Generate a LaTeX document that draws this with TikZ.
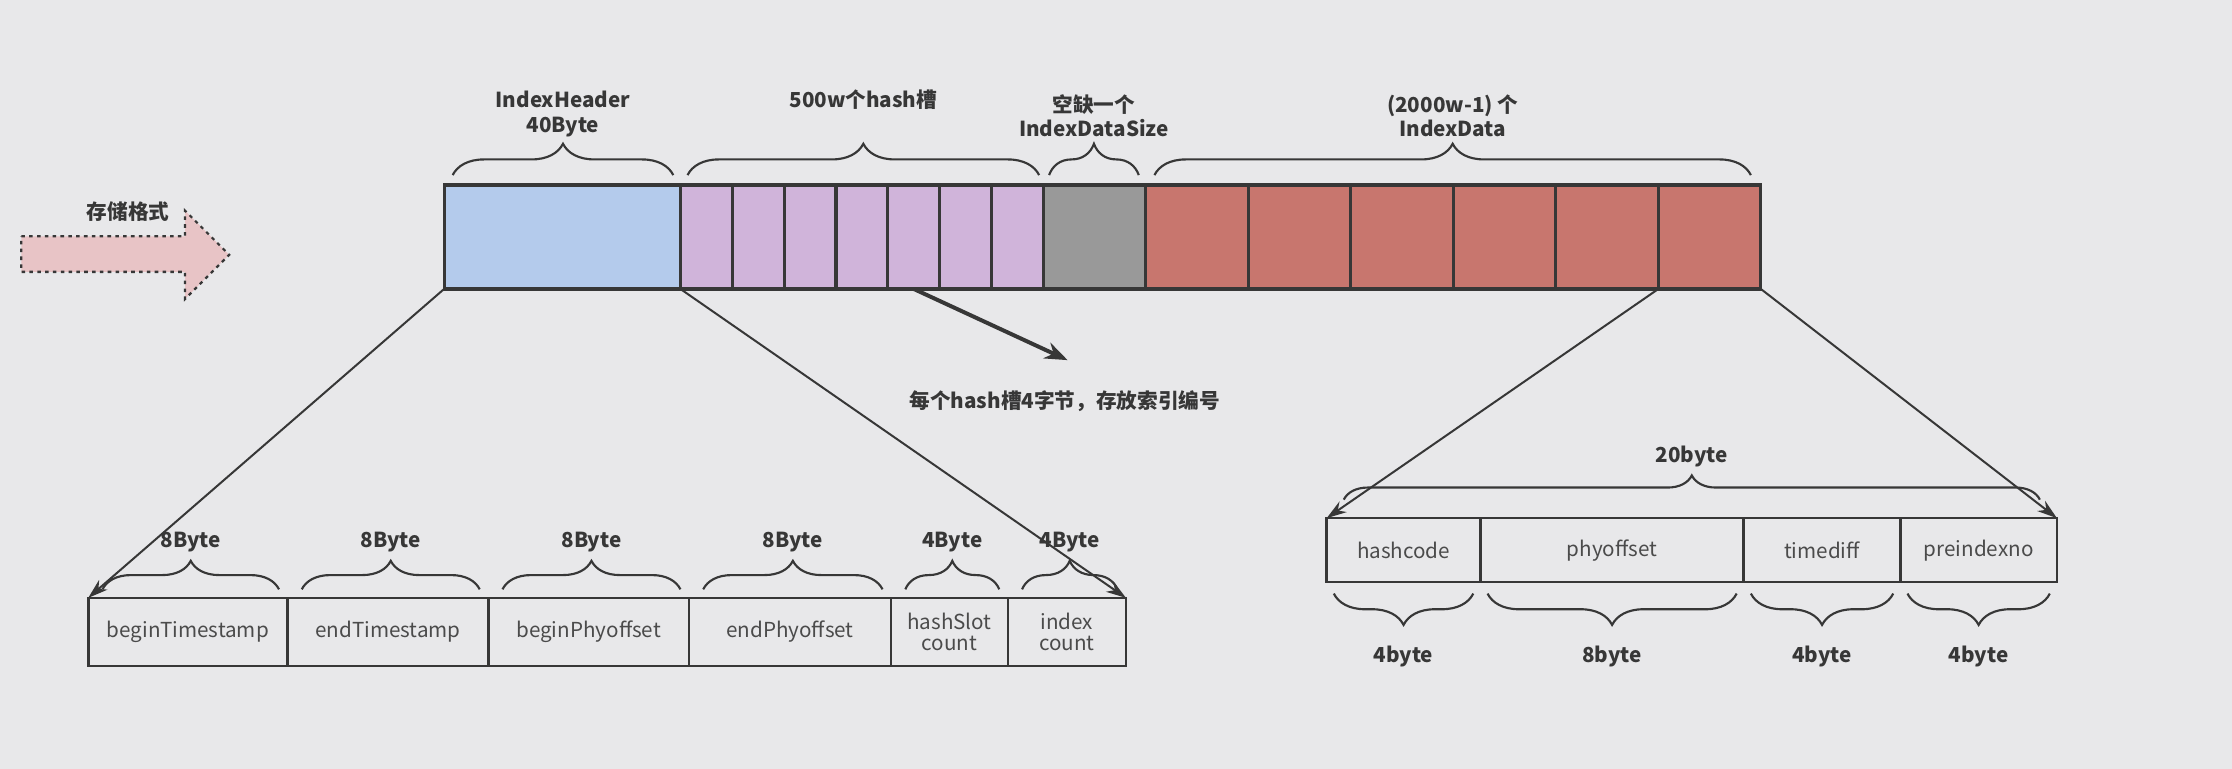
\documentclass[tikz,border=0pt]{standalone}
\usepackage{fontspec}
\setmainfont{Noto Sans CJK SC}
\usetikzlibrary{arrows.meta,decorations.pathreplacing,calc}

\definecolor{bgcol}{RGB}{232,232,234}
\definecolor{hdrblue}{RGB}{180,203,236}
\definecolor{slotpurple}{RGB}{208,180,218}
\definecolor{gapgray}{RGB}{153,153,153}
\definecolor{datared}{RGB}{200,118,110}
\definecolor{arrowpink}{RGB}{232,196,198}
\definecolor{linecol}{RGB}{55,55,55}
\definecolor{textcol}{RGB}{75,75,75}

\tikzset{
  cell/.style={draw=linecol, line width=1.8pt, anchor=north west, inner sep=0pt, outer sep=0pt},
  bar/.style={cell, line width=2.2pt, minimum height=73pt},
  field/.style={cell, minimum height=#1, align=center, text=textcol,
    font=\fontsize{14.5}{17}\selectfont},
  field/.default=48pt,
  tag/.style={font=\fontsize{14.5}{17}\selectfont\bfseries, text=linecol, align=center},
  brace/.style={draw=linecol, line width=1.5pt, decorate,
    decoration={brace, amplitude=#1}},
  brace/.default=20pt,
  link/.style={draw=linecol, line width=1.4pt, -{Stealth[length=14pt,width=9pt]}}
}

\begin{document}
\begin{tikzpicture}[x=1pt,y=-1pt]
% background
\fill[bgcol] (0,0) rectangle (1568,540);
\useasboundingbox (0,0) rectangle (1568,540);

% storage arrow
\draw[linecol, fill=arrowpink, line width=1.6pt, dash pattern=on 2.5pt off 3pt]
  (15,166) -- (130,166) -- (130,148) -- (161,179) -- (130,210) -- (130,191) -- (15,191) -- cycle;
\node[tag] (storelbl) at (90,149) {存储格式};

% top bar
\node[bar, fill=hdrblue, minimum width=166pt] (hdr) at (312,130) {};
\foreach \i in {0,...,6}
  \node[bar, fill=slotpurple, minimum width=36.43pt] (slot\i) at ({478+\i*36.43},130) {};
\node[bar, fill=gapgray, minimum width=72pt] (gap) at (733,130) {};
\foreach \i in {0,...,5}
  \node[bar, fill=datared, minimum width=72pt] (red\i) at ({805+\i*72},130) {};

% braces over the bar
\draw[brace=22pt] (318,123) -- (473,123) node[tag, midway, above=23pt] (hdrlbl) {IndexHeader\\40Byte};
\draw[brace=22pt] (483,123) -- (730,123) node[tag, midway, above=42pt] (slotlbl) {500w个hash槽};
\draw[brace=22pt] (737,123) -- (800,123) node[tag, midway, above=23pt] (gaplbl) {空缺一个\\IndexDataSize};
\draw[brace=22pt] (811,123) -- (1230,123) node[tag, midway, above=23pt] (redlbl) {(2000w-1) 个\\IndexData};

% header fields
\node[field, minimum width=140pt] (bt) at (62,420) {beginTimestamp};
\node[field, minimum width=141pt] (et) at (bt.north east) {endTimestamp};
\node[field, minimum width=141pt] (bp) at (et.north east) {beginPhyoffset};
\node[field, minimum width=142pt] (ep) at (bp.north east) {endPhyoffset};
\node[field, minimum width=82pt] (hs) at (ep.north east) {hashSlot\\[-2pt]count};
\node[field, minimum width=83pt] (ic) at (hs.north east) {index\\[-2pt]count};

\foreach \f/\w in {bt/8Byte, et/8Byte, bp/8Byte, ep/8Byte, hs/4Byte, ic/4Byte}
  \draw[brace] ($(\f.north west)+(10,-6)$) -- ($(\f.north east)+(-6,-6)$)
    node[tag, midway, above=22pt] (\f lbl) {\w};

% data fields
\node[field=45pt, minimum width=108pt] (hc) at (932,364) {hashcode};
\node[field=45pt, minimum width=185pt] (po) at (hc.north east) {phyoffset};
\node[field=45pt, minimum width=110pt] (td) at (po.north east) {timediff};
\node[field=45pt, minimum width=110pt] (pre) at (td.north east) {preindexno};

\draw[brace=17pt] ($(hc.north west)+(12,-13)$) -- ($(pre.north east)+(-12,-13)$)
  node[tag, midway, above=19pt] (sizelbl) {20byte};
\foreach \f/\w in {hc/4byte, po/8byte, td/4byte, pre/4byte}
  \draw[brace=22pt] ($(\f.south east)+(-5,8)$) -- ($(\f.south west)+(5,8)$)
    node[tag, midway, below=33pt] (\f lbl) {\w};

% connectors
\draw[link] (hdr.south west) -- (bt.north west);
\draw[link] (hdr.south east) -- (ic.north east);
\draw[link] (red5.south west) -- (hc.north west);
\draw[link] (red5.south east) -- (pre.north east);

% hash slot note
\coordinate (hashtip) at (750,253);
\draw[link, line width=2.8pt, -{Stealth[length=16pt,width=12pt]}] (slot4.south) -- (hashtip);
\node[tag] (hashnote) at (748,282) {每个hash槽4字节，存放索引编号};
\end{tikzpicture}
\end{document}
